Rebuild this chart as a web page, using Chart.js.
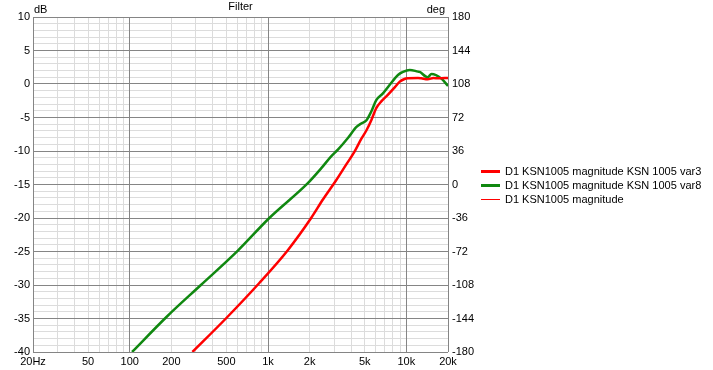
<!DOCTYPE html>
<html>
<head>
<meta charset="utf-8">
<script src="https://cdn.jsdelivr.net/npm/chart.js@4.4.0/dist/chart.umd.min.js"></script>
<style>
html, body { margin: 0; padding: 0; background: #fff; }
</style>
</head>
<body>
<canvas id="chart" width="713" height="370"></canvas>
<script>
// series (Hz, dB)
var var3Freq = [284, 496, 865, 1390, 2050, 2500, 3100, 3680, 4220, 4720, 5150, 5580, 6060, 6590, 7370, 8240, 8960, 9700, 10260, 12140, 12800, 14260, 15700, 17000, 20000];
var var3Db   = [-40, -35, -29.7, -24.8, -20, -17.2, -14.4, -12.0, -10.1, -8.2, -6.9, -5.4, -3.6, -2.6, -1.6, -0.5, 0.35, 0.75, 0.85, 0.9, 0.85, 0.7, 0.9, 0.85, 0.9];
var var8Freq = [104, 186, 327, 603, 1022, 1940, 2420, 2860, 3200, 3780, 4360, 4720, 5150, 5580, 6060, 6770, 7560, 8700, 9450, 10570, 12140, 12500, 14260, 15200, 17930, 20000];
var var8Db   = [-40, -34.7, -30, -24.9, -20, -14.8, -12.6, -10.8, -9.8, -8.06, -6.4, -5.9, -5.4, -4.1, -2.4, -1.4, -0.15, 1.35, 1.8, 2.1, 1.85, 1.8, 1.0, 1.5, 0.8, -0.3];

var seriesNames = ["D1 KSN1005 magnitude KSN 1005 var3", "D1 KSN1005 magnitude KSN 1005 var8", "D1 KSN1005 magnitude"];

var xTickValues = [20, 50, 100, 200, 500, 1000, 2000, 5000, 10000, 20000];
var xTickLabels = ["20Hz", "50", "100", "200", "500", "1k", "2k", "5k", "10k", "20k"];
var xMajor = [20, 100, 1000, 10000, 20000];

function points(fs, ds) {
    return fs.map(function(f, i) { return { x: f, y: ds[i] }; });
}

var FONT = "'Liberation Sans', Arial, sans-serif";
var font = { family: FONT, size: 11 };
var MAJOR = "#858585", MINOR = "#dcdcdc";

var extras = {
    id: "extras",
    afterDraw: function(chart) {
        var c = chart.ctx, area = chart.chartArea;
        c.save();
        c.font = "11px " + FONT;
        c.fillStyle = "#000";
        c.textBaseline = "middle";
        c.textAlign = "center";
        c.fillText("Filter", (area.left + area.right) / 2, 7);
        c.textAlign = "left";
        c.fillText("dB", area.left + 1, 10);
        c.textAlign = "right";
        c.fillText("deg", area.right - 3, 10);
        // legend
        c.textAlign = "left";
        chart.data.datasets.forEach(function(ds, i) {
            var y = 171.5 + i * 14;
            c.strokeStyle = ds.borderColor;
            c.lineWidth = ds.borderWidth > 1 ? 3 : 1;
            c.beginPath();
            c.moveTo(481, y);
            c.lineTo(500, y);
            c.stroke();
            c.fillText(ds.label, 505, y);
        });
        c.restore();
    }
};

new Chart(document.getElementById("chart"), {
    type: "line",
    data: {
        datasets: [{
            label: seriesNames[0],
            data: points(var3Freq, var3Db),
            borderColor: "#ff0000",
            borderWidth: 2.5
        }, {
            label: seriesNames[1],
            data: points(var8Freq, var8Db),
            borderColor: "#108810",
            borderWidth: 2.5
        }, {
            label: seriesNames[2],
            data: [],
            borderColor: "#ff0000",
            borderWidth: 1
        }]
    },
    options: {
        responsive: false,
        animation: false,
        devicePixelRatio: 1,
        parsing: false,
        elements: {
            point: { radius: 0 },
            line: { cubicInterpolationMode: "monotone", fill: false }
        },
        layout: { padding: { top: 17, left: 0, right: 0, bottom: 0 } },
        plugins: {
            legend: { display: false },
            tooltip: { enabled: false }
        },
        scales: {
            x: {
                type: "logarithmic",
                min: 20,
                max: 20000,
                afterBuildTicks: function(s) {
                    var t = [];
                    [10, 100, 1000].forEach(function(d) {
                        for (var k = 2; k <= 10; k++) {
                            if (d * k >= 20 && t.indexOf(d * k) < 0) t.push(d * k);
                        }
                    });
                    t.push(20000);
                    s.ticks = t.map(function(v) { return { value: v }; });
                },
                afterFit: function(s) { s.height = 18; },
                ticks: {
                    autoSkip: false,
                    maxRotation: 0,
                    padding: 3,
                    color: "#000",
                    font: font,
                    callback: function(v) {
                        var i = xTickValues.indexOf(v);
                        return i < 0 ? "" : xTickLabels[i];
                    }
                },
                grid: { drawTicks: false, color: MINOR, z: -2 },
                border: { display: false }
            },
            // darker decade lines, drawn over the light ones
            xMajor: {
                type: "logarithmic",
                position: "bottom",
                min: 20,
                max: 20000,
                afterBuildTicks: function(s) {
                    s.ticks = xMajor.map(function(v) { return { value: v }; });
                },
                afterFit: function(s) { s.height = 0; },
                ticks: { display: false },
                grid: { drawTicks: false, color: MAJOR, z: -1 },
                border: { display: false }
            },
            y: {
                position: "left",
                min: -40,
                max: 10,
                afterBuildTicks: function(s) {
                    var t = [];
                    for (var v = -40; v <= 10; v++) t.push({ value: v });
                    s.ticks = t;
                },
                afterFit: function(s) { s.width = 33; },
                ticks: {
                    autoSkip: false,
                    padding: 3,
                    color: "#000",
                    font: font,
                    callback: function(v) { return v % 5 === 0 ? String(v) : ""; }
                },
                grid: { drawTicks: false, color: MINOR, z: -2 },
                border: { display: false }
            },
            yMajor: {
                position: "left",
                min: -40,
                max: 10,
                afterFit: function(s) { s.width = 0; },
                ticks: { display: false, stepSize: 5 },
                grid: { drawTicks: false, color: MAJOR, z: -1 },
                border: { display: false }
            },
            y2: {
                position: "right",
                min: -180,
                max: 180,
                afterFit: function(s) { s.width = 265; },
                ticks: {
                    stepSize: 36,
                    padding: 4,
                    color: "#000",
                    font: font
                },
                grid: { display: false, drawTicks: false },
                border: { display: false }
            }
        }
    },
    plugins: [extras]
});
</script>
</body>
</html>
